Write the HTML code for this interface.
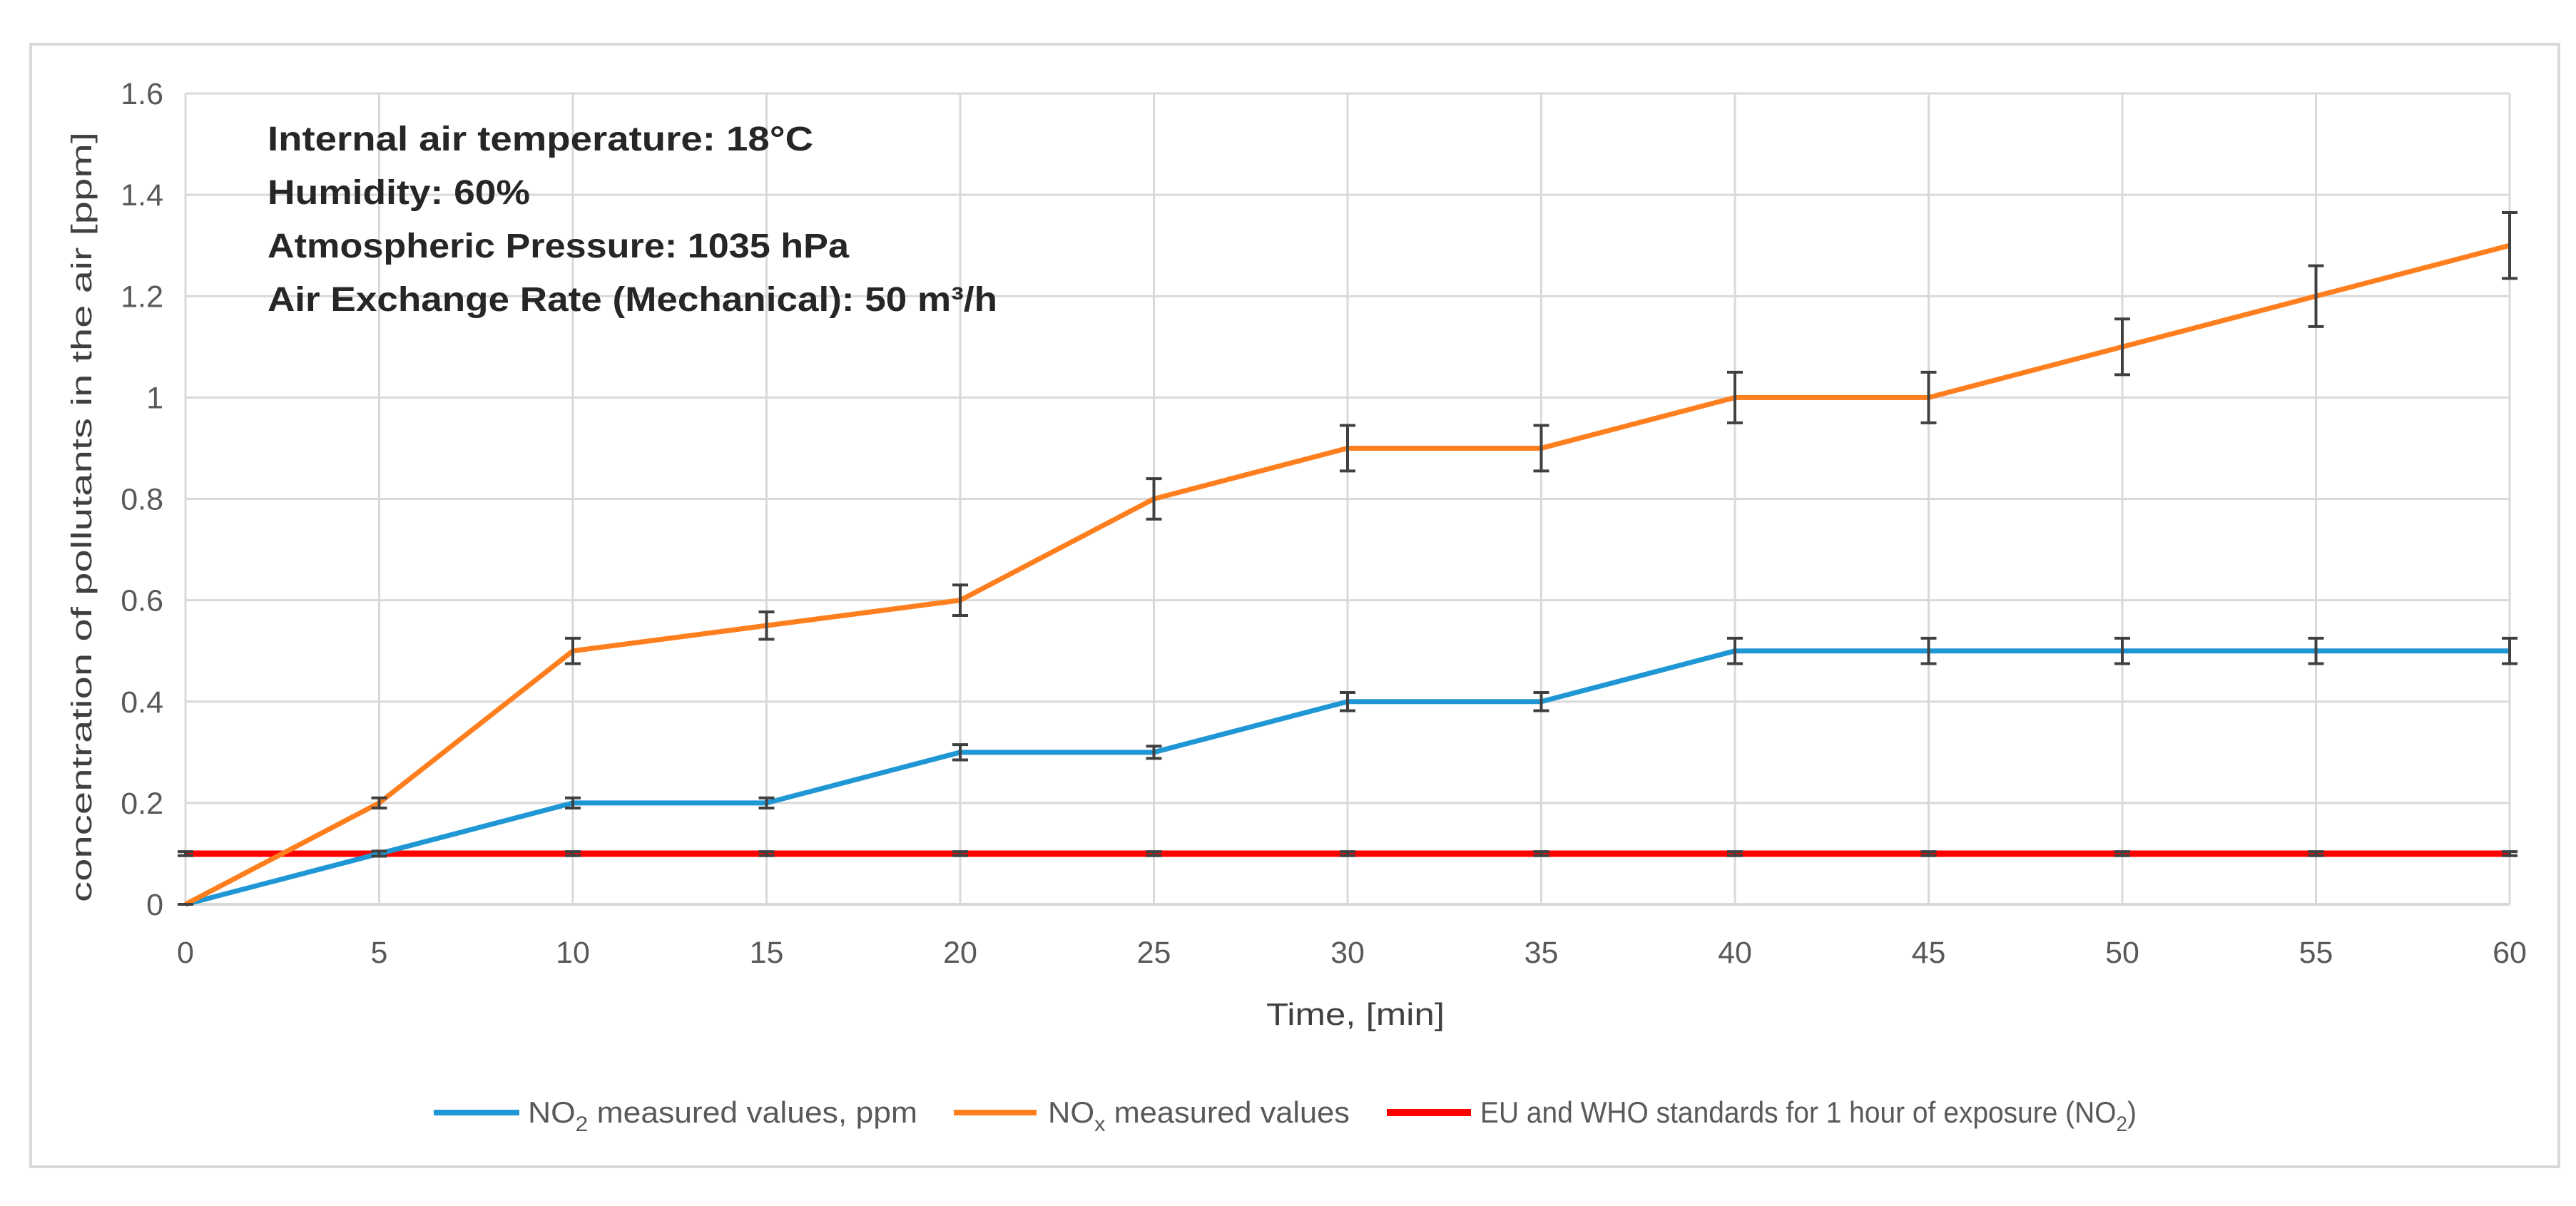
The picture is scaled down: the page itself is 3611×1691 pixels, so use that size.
<!DOCTYPE html>
<html><head><meta charset="utf-8"><style>
html,body{margin:0;padding:0;background:#fff;}
svg{display:block;font-family:"Liberation Sans",sans-serif;}
</style></head><body>
<svg id="chart" width="3611" height="1691" viewBox="0 0 3611 1691" xmlns="http://www.w3.org/2000/svg">
<rect x="43" y="62" width="3544" height="1574" fill="#fff" stroke="#d9d9d9" stroke-width="4"/>
<g id="grid"></g>
<g id="series"></g>
<g id="axes"></g>
<text transform="translate(128,725) rotate(-90)" text-anchor="middle" font-size="40" fill="#404040" textLength="1080" lengthAdjust="spacingAndGlyphs">concentration of pollutants in the air [ppm]</text>
<text x="1900" y="1437" text-anchor="middle" font-size="44" fill="#404040" textLength="250" lengthAdjust="spacingAndGlyphs">Time, [min]</text>
<g font-weight="bold" font-size="48" fill="#262626">
<text x="375" y="211" textLength="765" lengthAdjust="spacingAndGlyphs">Internal air temperature: 18°C</text>
<text x="375" y="286" textLength="368" lengthAdjust="spacingAndGlyphs">Humidity: 60%</text>
<text x="375" y="361" textLength="815" lengthAdjust="spacingAndGlyphs">Atmospheric Pressure: 1035 hPa</text>
<text x="375" y="436" textLength="1023" lengthAdjust="spacingAndGlyphs">Air Exchange Rate (Mechanical): 50 m³/h</text>
</g>
<g font-size="42" fill="#595959">
<g>
<line x1="608" y1="1560" x2="728" y2="1560" stroke="#1f97d4" stroke-width="8"/>
<text x="740" y="1574" textLength="546" lengthAdjust="spacingAndGlyphs">NO<tspan font-size="30" dy="12">2</tspan><tspan dy="-12"> measured values, ppm</tspan></text>
</g>
<g>
<line x1="1337" y1="1560" x2="1453" y2="1560" stroke="#ff7f1e" stroke-width="8"/>
<text x="1469" y="1574" textLength="423" lengthAdjust="spacingAndGlyphs">NO<tspan font-size="30" dy="12">x</tspan><tspan dy="-12"> measured values</tspan></text>
</g>
<g>
<line x1="1944" y1="1560" x2="2062" y2="1560" stroke="#ff0000" stroke-width="10"/>
<text x="2075" y="1574" textLength="920" lengthAdjust="spacingAndGlyphs">EU and WHO standards for 1 hour of exposure (NO<tspan font-size="30" dy="12">2</tspan><tspan dy="-12">)</tspan></text>
</g>
</g>
</svg>
<script>
const times = [0,5,10,15,20,25,30,35,40,45,50,55,60];
const no2Values = [0,0.1,0.2,0.2,0.3,0.3,0.4,0.4,0.5,0.5,0.5,0.5,0.5];
const no2Errors = [0,0.005,0.01,0.01,0.015,0.012,0.018,0.018,0.025,0.025,0.025,0.025,0.025];
const noxValues = [0,0.2,0.5,0.55,0.6,0.8,0.9,0.9,1.0,1.0,1.1,1.2,1.3];
const noxErrors = [0,0.01,0.025,0.027,0.03,0.04,0.045,0.045,0.05,0.05,0.055,0.06,0.065];
const limitValues = [0.1,0.1,0.1,0.1,0.1,0.1,0.1,0.1,0.1,0.1,0.1,0.1,0.1];
const limitErrors = [0.004,0.004,0.004,0.004,0.004,0.004,0.004,0.004,0.004,0.004,0.004,0.004,0.004];
const yTicks = [0,0.2,0.4,0.6,0.8,1,1.2,1.4,1.6];
const yTickLabels = ["0","0.2","0.4","0.6","0.8","1","1.2","1.4","1.6"];
const xTickLabels = ["0","5","10","15","20","25","30","35","40","45","50","55","60"];

const NS = "http://www.w3.org/2000/svg";
const X0=260, X1=3518, Y0=1268, Y1=131;
function xs(t){return X0+(t-0)/(60-0)*(X1-X0);}
function ys(v){return Y0-(v-0)/(1.6-0)*(Y0-Y1);}
function mk(tag, attrs, parent){const e=document.createElementNS(NS,tag);for(const k in attrs)e.setAttribute(k,attrs[k]);parent.appendChild(e);return e;}
const grid=document.getElementById('grid'), axes=document.getElementById('axes'), series=document.getElementById('series');

yTicks.forEach((v,i)=>{
  const l=mk('line',{x1:X0,x2:X1,y1:ys(v),y2:ys(v),stroke:'#d9d9d9','stroke-width':3},grid);
  
  
  const t=mk('text',{x:229,y:ys(v)+15,'text-anchor':'end','font-size':43,fill:'#595959'},axes);
  t.textContent=yTickLabels[i];
  
  
});
times.forEach((tm,i)=>{
  const l=mk('line',{x1:xs(tm),x2:xs(tm),y1:Y1,y2:Y0,stroke:'#d9d9d9','stroke-width':3},grid);
  
  
  const t=mk('text',{x:xs(tm),y:1350,'text-anchor':'middle','font-size':43,fill:'#595959'},axes);
  t.textContent=xTickLabels[i];
  
  
});

function drawSeries(name, vals, errs, color, w){
  const g=mk('g',{},series);
  
  
  const pts=times.map((t,i)=>xs(t)+','+ys(vals[i])).join(' ');
  const p=mk('polyline',{points:pts,fill:'none',stroke:color,'stroke-width':w,'stroke-linejoin':'round'},g);
  
  
  times.forEach((t,i)=>{
    const x=xs(t), ya=ys(vals[i]+errs[i]), yb=ys(vals[i]-errs[i]);
    const eb=mk('path',{d:`M${x},${ya}V${yb}M${x-11},${ya}H${x+11}M${x-11},${yb}H${x+11}`,stroke:'#404040','stroke-width':4,fill:'none'},g);
    
    
  });
}
drawSeries('eu-who-limit', limitValues, limitErrors, '#ff0000', 9);
drawSeries('no2', no2Values, no2Errors, '#1f97d4', 7);
drawSeries('nox', noxValues, noxErrors, '#ff7f1e', 7);
const ax=mk('line',{x1:X0,x2:X1,y1:Y0,y2:Y0,stroke:'#d9d9d9','stroke-width':4},grid);


</script>
</body></html>
